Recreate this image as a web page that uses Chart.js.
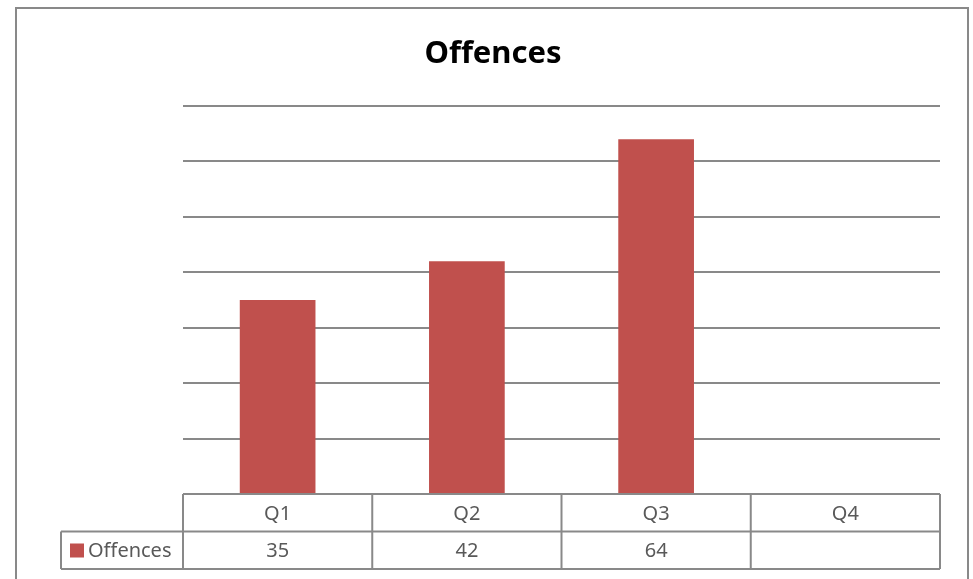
<!DOCTYPE html>
<html>
<head>
<meta charset="utf-8">
<script src="https://cdn.jsdelivr.net/npm/chart.js@4"></script>
<style>
    html, body { margin: 0; padding: 0; background: #fff; }
    #wrap { width: 973px; height: 579px; }
</style>
</head>
<body>
<div id="wrap"><canvas id="offChart" width="973" height="579"></canvas></div>
<script>
const CATEGORIES = ["Q1", "Q2", "Q3", "Q4"];
const OFFENCES = [35, 42, 64, null];
const SERIES_NAME = "Offences";
const TITLE = "Offences";
const Y_MAX = 70;
const Y_STEP = 10;

const BAR_COLOR = "#C0504D";
const LINE_COLOR = "#898989";
const TEXT_COLOR = "#595959";
const FONT = "'Noto Sans', 'Open Sans', sans-serif";

const FRAME = { left: 16, top: 8, right: 968 };


// outer frame of the chart object (bottom edge runs off the picture) + title
const framePlugin = {
    id: "frame",
    beforeDraw(chart) {
        const ctx = chart.ctx;
        ctx.save();
        ctx.strokeStyle = LINE_COLOR;
        ctx.lineWidth = 2;
        ctx.beginPath();
        ctx.moveTo(FRAME.left, 600);
        ctx.lineTo(FRAME.left, FRAME.top);
        ctx.lineTo(FRAME.right, FRAME.top);
        ctx.lineTo(FRAME.right, 600);
        ctx.stroke();

        ctx.fillStyle = "#000";
        ctx.font = "bold 31px " + FONT;
        ctx.textAlign = "center";
        ctx.textBaseline = "alphabetic";
        ctx.fillText(TITLE, (FRAME.left + FRAME.right) / 2 + 1, 63);
        ctx.restore();
    }
};


// Excel-like data table under the plot area
const dataTablePlugin = {
    id: "dataTable",
    afterDraw(chart) {
        const ctx = chart.ctx;
        const area = chart.chartArea;
        const xs = chart.scales.x;
        const colW = (area.right - area.left) / CATEGORIES.length;
        const rowH = 37.5;
        const top = area.bottom;
        const mid = top + rowH;
        const bot = mid + rowH;
        const legendLeft = 61;

        ctx.save();
        ctx.strokeStyle = LINE_COLOR;
        ctx.lineWidth = 2;
        ctx.beginPath();
        ctx.moveTo(area.left, top);
        ctx.lineTo(area.right, top);
        ctx.moveTo(legendLeft, mid);
        ctx.lineTo(area.right, mid);
        ctx.moveTo(legendLeft, bot);
        ctx.lineTo(area.right, bot);
        ctx.moveTo(legendLeft, mid);
        ctx.lineTo(legendLeft, bot);
        for (let i = 0; i <= CATEGORIES.length; i++) {
            const x = area.left + i * colW;
            ctx.moveTo(x, top);
            ctx.lineTo(x, bot);
        }
        ctx.stroke();

        ctx.fillStyle = TEXT_COLOR;
        ctx.font = "20px " + FONT;
        ctx.textAlign = "center";
        ctx.textBaseline = "alphabetic";
        CATEGORIES.forEach((c, i) => {
            const cx = xs.getPixelForValue(i);
            ctx.fillText(c, cx, top + 26);
            const v = OFFENCES[i];
            if (v !== null) ctx.fillText(String(v), cx, mid + 25);
        });

        // legend key + series name
        ctx.fillStyle = BAR_COLOR;
        ctx.fillRect(70, mid + 12, 14, 14);
        ctx.fillStyle = TEXT_COLOR;
        ctx.textAlign = "left";
        ctx.fillText(SERIES_NAME, 88, mid + 25);
        ctx.restore();
    }
};


function createChart() {
    const ctx = document.getElementById("offChart").getContext("2d");

    return new Chart(ctx, {
        type: "bar",
        data: {
            labels: CATEGORIES,
            datasets: [{
                label: SERIES_NAME,
                data: OFFENCES,
                backgroundColor: BAR_COLOR,
                borderWidth: 0,
                categoryPercentage: 1,
                barPercentage: 0.4
            }]
        },
        options: {
            responsive: false,
            animation: false,
            layout: {
                padding: { left: 183, right: 33, top: 106, bottom: 85 }
            },
            scales: {
                x: {
                    ticks: { display: false },
                    grid: { display: false, drawTicks: false },
                    border: { display: false }
                },
                y: {
                    min: 0,
                    max: Y_MAX,
                    ticks: { display: false, stepSize: Y_STEP },
                    grid: { color: LINE_COLOR, lineWidth: 2, drawTicks: false },
                    border: { display: false }
                }
            },
            plugins: {
                legend: { display: false },
                tooltip: { enabled: false },
                title: { display: false }
            }
        },
        plugins: [framePlugin, dataTablePlugin]
    });
}

createChart();
</script>
</body>
</html>
